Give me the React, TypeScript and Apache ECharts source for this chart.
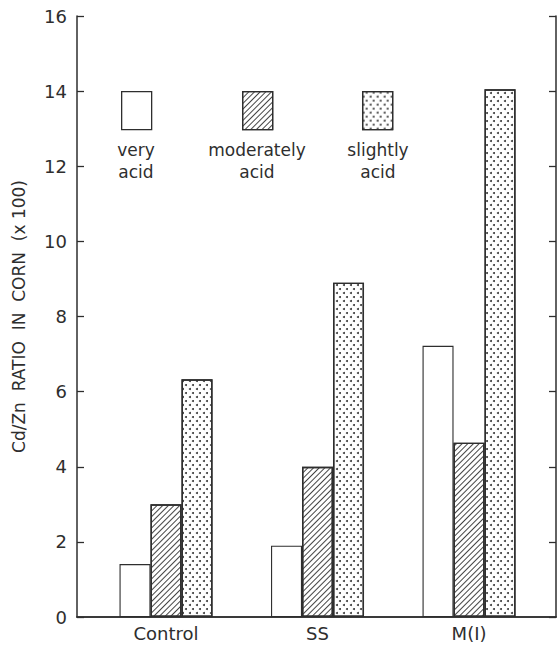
import React, { useEffect, useRef } from "react";
import * as echarts from "echarts";

const categories = ["Control", "SS", "M(I)"];
const seriesNames = ["very acid", "moderately acid", "slightly acid"];
const veryAcid = [1.41, 1.9, 7.22];
const moderatelyAcid = [3.0, 4.0, 4.64];
const slightlyAcid = [6.33, 8.9, 14.05];
const yTicks = [0, 2, 4, 6, 8, 10, 12, 14, 16];

const FONT = "DejaVu Sans";
const INK = "#2e2e2e";

const hatchDecal = {
  symbol: "rect",
  symbolSize: 1,
  dashArrayX: [1, 0],
  dashArrayY: [1, 2.2],
  rotation: -Math.PI / 4,
  color: "#444",
};
const dotDecal = {
  symbol: "circle",
  symbolSize: 1,
  dashArrayX: [
    [1.4, 4.2],
    [0, 2.8, 1.4, 1.4],
  ],
  dashArrayY: [1.4, 1.4],
  color: "#3a3a3a",
};

export default function App() {
  const ref = useRef<HTMLDivElement>(null);
  useEffect(() => {
    if (!ref.current) return;
    const chart = echarts.init(ref.current, null, { renderer: "svg" });
    const xMin = 0.4125;
    const xMax = 3.574;
    const mk = (vals: number[]) => vals.map((v, i) => [i + 1, v]);
    const decals = [null, hatchDecal, dotDecal];
    const data = [veryAcid, moderatelyAcid, slightlyAcid];
    const legendLeft = [121, 242, 362];
    const legendTextX = [136, 257, 378];
    const legendLabels = ["very\nacid", "moderately\nacid", "slightly\nacid"];
    chart.setOption({
      animation: false,
      backgroundColor: "#fff",
      textStyle: { fontFamily: FONT, color: INK },
      grid: { left: 77, right: 2, top: 16, bottom: 34, outerBoundsMode: "none", containLabel: false },
      legend: seriesNames.map((n, i) => ({
        data: [n],
        left: legendLeft[i],
        top: 91,
        padding: 0,
        itemWidth: 30,
        itemHeight: 38,
        icon: "rect",
        formatter: () => "",
        itemStyle: { borderColor: INK, borderWidth: 1.3 },
        selectedMode: false,
      })),
      graphic: legendLabels.map((t, i) => ({
        type: "text",
        x: legendTextX[i],
        y: 139,
        style: {
          text: t,
          fill: INK,
          font: `17px "${FONT}"`,
          textAlign: "center",
          lineHeight: 22,
        },
      })),
      xAxis: [
        {
          type: "value",
          min: xMin,
          max: xMax,
          position: "bottom",
          splitLine: { show: false },
          axisTick: { show: false },
          axisLine: { show: true, lineStyle: { color: INK, width: 1.5 } },
          axisLabel: {
            customValues: [1, 2, 3],
            formatter: (v: number) => categories[Math.round(v) - 1] ?? "",
            fontSize: 18,
            color: INK,
            fontFamily: FONT,
            margin: 7,
          },
        },
        {
          type: "value",
          min: xMin,
          max: xMax,
          position: "top",
          splitLine: { show: false },
          axisTick: { show: false },
          axisLabel: { show: false },
          axisLine: { show: true, lineStyle: { color: INK, width: 1.5 } },
        },
      ],
      yAxis: [
        {
          type: "value",
          min: 0,
          max: 16,
          interval: 2,
          position: "left",
          name: "Cd/Zn  RATIO  IN  CORN  (x 100)",
          nameLocation: "middle",
          nameRotate: 90,
          nameGap: 50,
          nameTextStyle: { fontSize: 17, color: INK, fontFamily: FONT },
          splitLine: { show: false },
          axisLine: { show: true, lineStyle: { color: INK, width: 1.5 } },
          axisTick: { show: true, inside: true, length: 7, lineStyle: { color: INK, width: 1.3 } },
          axisLabel: {
            fontSize: 18,
            color: INK,
            fontFamily: FONT,
            margin: 10,
            formatter: (v: number) => (yTicks.includes(v) ? String(v) : ""),
          },
        },
        {
          type: "value",
          min: 0,
          max: 16,
          interval: 2,
          position: "right",
          splitLine: { show: false },
          axisLine: { show: true, lineStyle: { color: INK, width: 1.5 } },
          axisTick: { show: true, inside: true, length: 7, lineStyle: { color: INK, width: 1.3 } },
          axisLabel: { show: false },
        },
      ],
      series: data.map((vals, i) => ({
        name: seriesNames[i],
        type: "bar",
        xAxisIndex: 0,
        yAxisIndex: 0,
        barWidth: 31,
        barGap: "0%",
        data: mk(vals),
        itemStyle: {
          color: "#fff",
          borderColor: INK,
          borderWidth: i === 0 ? 1.1 : 1.4,
          ...(decals[i] ? { decal: decals[i] } : {}),
        },
      })),
    });
    return () => chart.dispose();
  }, []);
  return (
    <div
      ref={ref}
      style={{ position: "fixed", left: 0, top: 0, width: 558, height: 651, background: "#fff" }}
    />
  );
}
